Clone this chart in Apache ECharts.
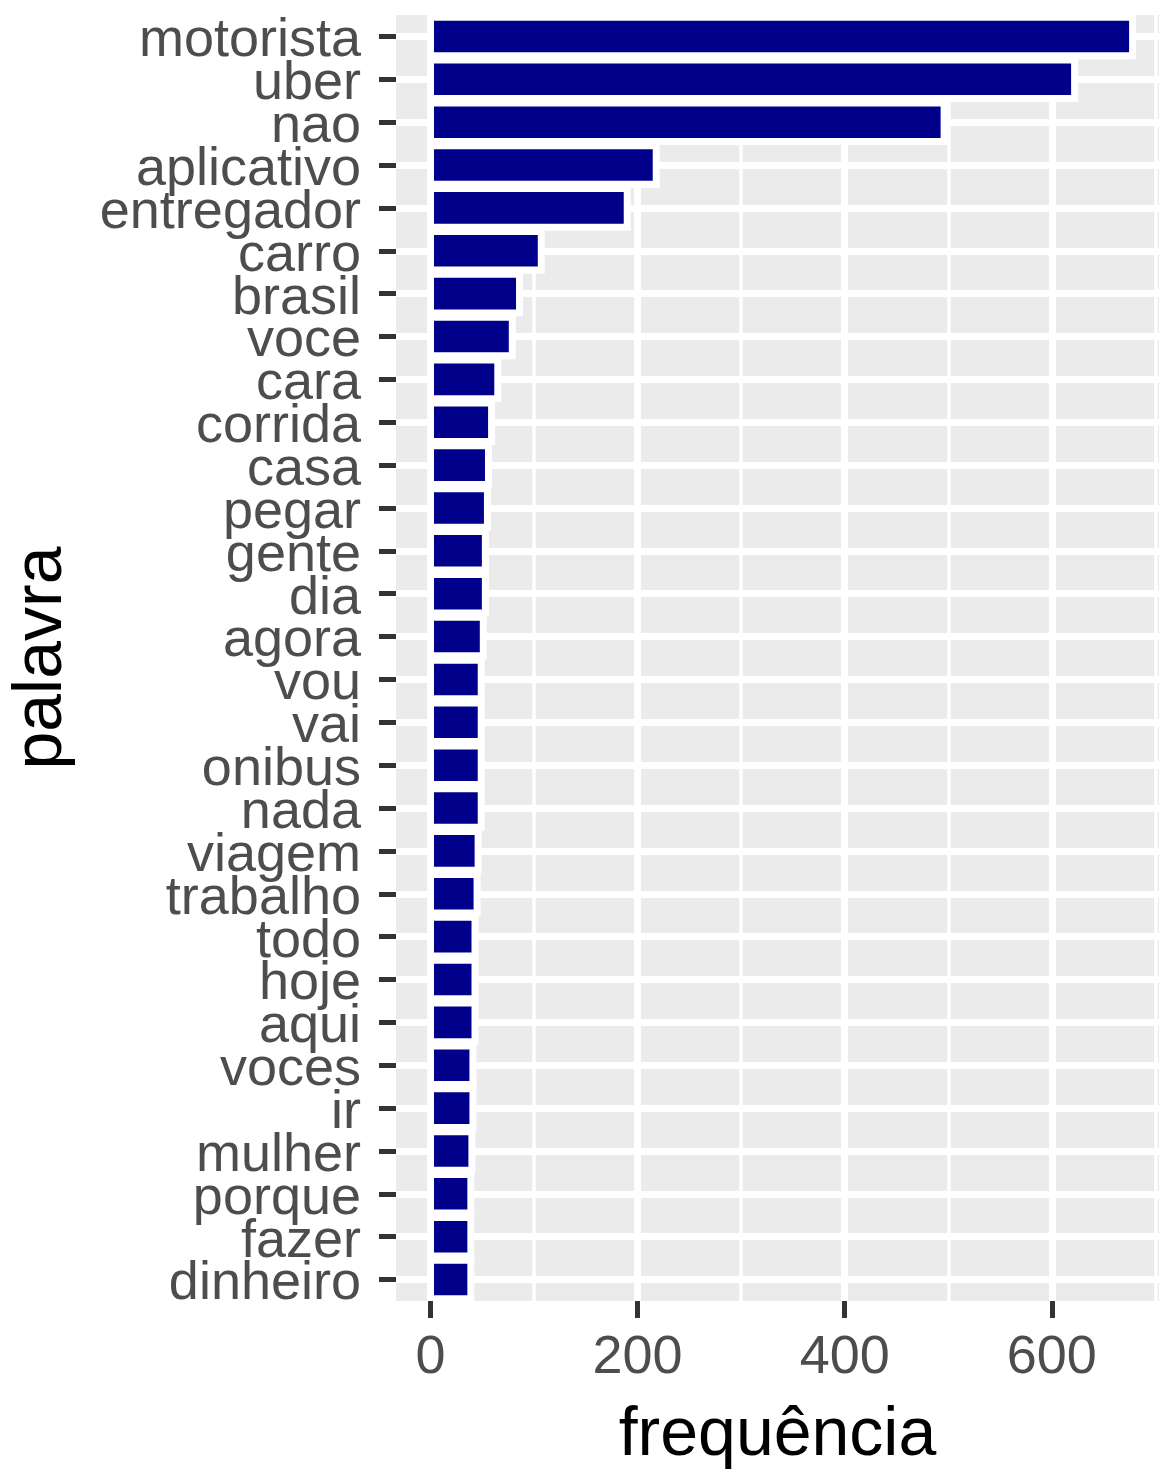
<!DOCTYPE html>
<html>
<head>
<meta charset="utf-8">
<script src="https://cdn.jsdelivr.net/npm/echarts@6/dist/echarts.min.js"></script>
<style>
  html, body { margin: 0; padding: 0; background: #fff; }
  #chart { width: 1159px; height: 1475px; }
</style>
</head>
<body>
<div id="chart"></div>
<script>
// Word frequencies (top 30 words)
const words = [
    'motorista', 'uber', 'nao', 'aplicativo', 'entregador', 'carro', 'brasil', 'voce',
    'cara', 'corrida', 'casa', 'pegar', 'gente', 'dia', 'agora', 'vou', 'vai', 'onibus',
    'nada', 'viagem', 'trabalho', 'todo', 'hoje', 'aqui', 'voces', 'ir', 'mulher',
    'porque', 'fazer', 'dinheiro'
];
const counts = [
    678, 622, 496, 218, 190, 107, 86, 79,
    65, 59, 56, 55, 53, 53, 51, 49, 49, 49,
    49, 46, 45, 43, 43, 43, 41, 41, 40,
    39, 39, 39
];
const xTicks = [0, 200, 400, 600];
const xMinorGrid = [100, 300, 500, 700];

const font = 'Liberation Sans';

const chart = echarts.init(document.getElementById('chart'));

// ggplot-style white grid lines, drawn under the bars
const gridLines = [];
xTicks.forEach(v => gridLines.push({ xAxis: v, lineStyle: { width: 7 } }));
xMinorGrid.forEach(v => gridLines.push({ xAxis: v, lineStyle: { width: 3.5 } }));
words.forEach(w => gridLines.push({ yAxis: w, lineStyle: { width: 7 } }));

const option = {
    animation: false,
    grid: {
        left: 395,
        right: 0,
        top: 15,
        bottom: 170,
        show: true,
        backgroundColor: '#EBEBEB',
        borderWidth: 0
    },
    xAxis: {
        type: 'value',
        min: -33.3,
        max: 703.5,
        name: 'frequência',
        nameLocation: 'middle',
        nameGap: 101,
        nameTextStyle: { fontFamily: font, fontSize: 68, color: '#000' },
        axisLine: { show: false, onZero: false },
        splitLine: { show: false },
        axisTick: {
            show: true,
            customValues: xTicks,
            length: 17,
            lineStyle: { color: '#333333', width: 5 }
        },
        axisLabel: {
            customValues: xTicks,
            margin: 30,
            fontFamily: font,
            fontSize: 54,
            color: '#4D4D4D'
        }
    },
    yAxis: [
        {
            type: 'category',
            data: words,
            inverse: true,
            name: 'palavra',
            nameLocation: 'middle',
            nameGap: 320,
            nameTextStyle: { fontFamily: font, fontSize: 68, color: '#000' },
            axisLine: { show: false, onZero: false },
            splitLine: { show: false },
            axisTick: {
                show: true,
                interval: 0,
                alignWithLabel: true,
                length: 17,
                lineStyle: { color: '#333333', width: 5 }
            },
            axisLabel: {
                interval: 0,
                margin: 35,
                fontFamily: font,
                fontSize: 54,
                color: '#4D4D4D',
                verticalAlign: 'top',
                lineHeight: 10
            }
        },
        {
            // hidden twin axis for the white outline behind each bar
            type: 'category',
            data: words,
            inverse: true,
            show: false,
            axisLine: { show: false, onZero: false }
        }
    ],
    series: [
        {
            name: 'contorno',
            type: 'bar',
            yAxisIndex: 1,
            data: counts,
            barWidth: '106%',
            z: 2,
            silent: true,
            itemStyle: {
                color: '#FFFFFF',
                shadowColor: '#FFFFFF',
                shadowBlur: 0,
                shadowOffsetX: 3.5
            },
            emphasis: { disabled: true }
        },
        {
            name: 'frequência',
            type: 'bar',
            data: counts,
            barWidth: '90%',
            z: 3,
            itemStyle: {
                color: '#00008B',
                borderColor: '#FFFFFF',
                borderWidth: 3.5
            },
            emphasis: { disabled: true },
            markLine: {
                silent: true,
                z: 1,
                symbol: 'none',
                label: { show: false },
                emphasis: { disabled: true },
                lineStyle: { color: '#FFFFFF', type: 'solid' },
                data: gridLines
            }
        }
    ]
};

chart.setOption(option);
</script>
</body>
</html>
